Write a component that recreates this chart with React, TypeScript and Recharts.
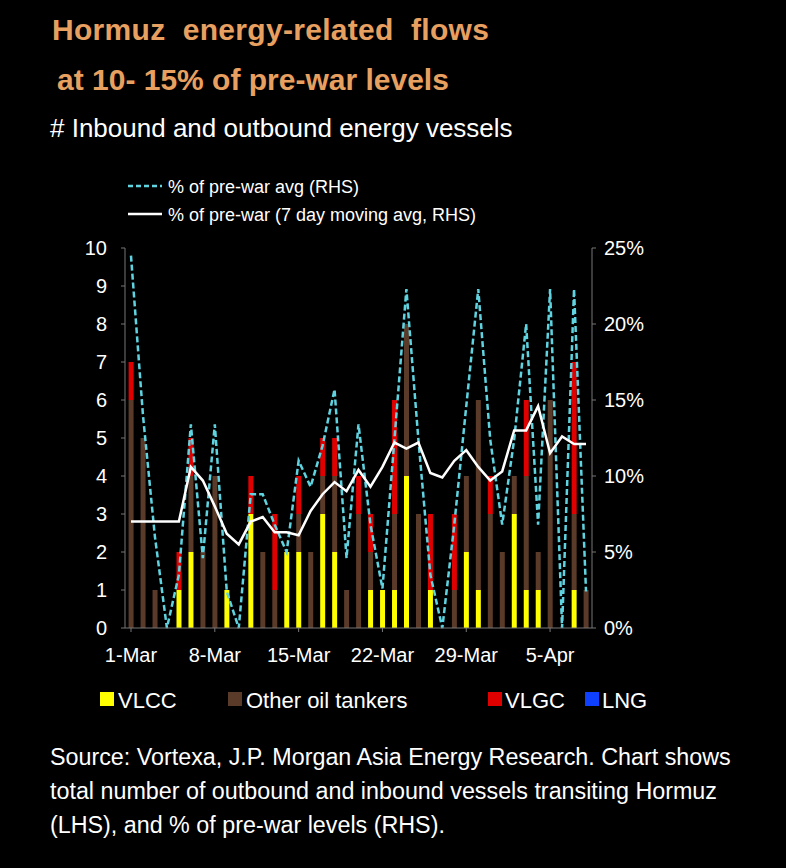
import React from "react";
import { ComposedChart, Bar, Line, XAxis, YAxis } from "recharts";

const dates = ["1-Mar","2-Mar","3-Mar","4-Mar","5-Mar","6-Mar","7-Mar","8-Mar","9-Mar","10-Mar","11-Mar","12-Mar","13-Mar","14-Mar","15-Mar","16-Mar","17-Mar","18-Mar","19-Mar","20-Mar","21-Mar","22-Mar","23-Mar","24-Mar","25-Mar","26-Mar","27-Mar","28-Mar","29-Mar","30-Mar","31-Mar","1-Apr","2-Apr","3-Apr","4-Apr","5-Apr","6-Apr","7-Apr","8-Apr"];
const vlcc = [0,0,0,0,1,2,0,0,1,0,3,0,0,2,2,0,3,2,0,0,1,1,1,4,0,1,0,0,2,1,0,0,3,1,1,0,0,1,0];
const other = [6,5,1,0,0,2,2,4,0,0,0,2,1,0,1,2,1,2,1,3,1,0,2,4,3,0,0,1,2,5,3,2,1,3,1,6,0,2,1];
const vlgc = [1,0,0,0,1,1,0,0,0,0,1,0,2,0,1,0,1,1,0,1,1,0,3,0,0,2,0,2,0,0,1,0,0,2,0,0,0,4,0];
const pctAvg = [24.5,14,6,0,3.5,13.4,4.6,13.4,2.4,0,8.8,8.8,6.8,5,11,9.3,12,15.7,4.6,13.4,6.8,2.6,12.4,22.3,12.4,3.5,0,6.8,14.6,22.3,12.4,6.8,12.4,20,6.8,22.3,0,22.3,2.4];
const pctMA = [7,7,7,7,7,10.6,9.7,8,6.2,5.5,7,7.3,6.3,6.3,6.1,7.7,8.8,9.6,9,10.4,9.3,10.6,12.2,11.8,12.2,10.2,9.9,11,11.7,10.6,9.7,10.3,13,13,14.6,11.5,12.6,12.1,12.1];
const leftTicks = [0,1,2,3,4,5,6,7,8,9,10];
const rightTicks = [0,5,10,15,20,25];

const data = dates.map((d, i) => ({ d, vlcc: vlcc[i], other: other[i], vlgc: vlgc[i], avg: pctAvg[i], ma: pctMA[i] }));
const font = "'Liberation Sans', Arial, sans-serif";

export default function App() {
  const tick = { fill: "#fff", fontSize: 20, fontFamily: font };
  return (
    <div style={{ position: "absolute", left: 0, top: 0, width: 786, height: 868, background: "#000", fontFamily: font, color: "#fff" }}>
      <div style={{ position: "absolute", left: 52, top: 13, fontSize: 30, fontWeight: "bold", color: "#e8a060", letterSpacing: 0.3 }}>Hormuz&nbsp; energy-related&nbsp; flows</div>
      <div style={{ position: "absolute", left: 57, top: 63, fontSize: 30, fontWeight: "bold", color: "#e8a060" }}>at 10- 15% of pre-war levels</div>
      <div style={{ position: "absolute", left: 50, top: 113, fontSize: 26, color: "#fff" }}># Inbound and outbound energy vessels</div>
      <svg style={{ position: "absolute", left: 0, top: 0 }} width={786} height={240}>
        <line x1={128} y1={186} x2={162} y2={186} stroke="#5fd3e0" strokeWidth={2.5} strokeDasharray="5 3" />
        <text x={168} y={193} fill="#fff" fontSize={18} fontFamily={font}>% of pre-war avg (RHS)</text>
        <line x1={128} y1={214} x2={162} y2={214} stroke="#fff" strokeWidth={2.5} />
        <text x={168} y={221} fill="#fff" fontSize={18} fontFamily={font}>% of pre-war (7 day moving avg, RHS)</text>
      </svg>
      <div style={{ position: "absolute", left: 0, top: 0 }}>
        <ComposedChart width={786} height={868} data={data} margin={{ top: 248, right: 0, bottom: 200, left: 20 }} barCategoryGap="30%">
          <XAxis dataKey="d" interval={6} tick={tick} stroke="#777" tickSize={4} height={40} tickMargin={16} />
          <YAxis yAxisId="l" domain={[0, 10]} ticks={leftTicks} tick={tick} stroke="#777" width={105} tickSize={4} tickMargin={14} />
          <YAxis yAxisId="r" orientation="right" domain={[0, 25]} ticks={rightTicks} tickFormatter={(v: number) => v + "%"} tick={tick} stroke="#777" width={194} tickSize={4} tickMargin={8} />
          <Bar yAxisId="l" dataKey="vlcc" stackId="a" fill="#ffff00" isAnimationActive={false} />
          <Bar yAxisId="l" dataKey="other" stackId="a" fill="#5a3a28" isAnimationActive={false} />
          <Bar yAxisId="l" dataKey="vlgc" stackId="a" fill="#e00000" isAnimationActive={false} />
          <Line yAxisId="r" dataKey="avg" stroke="#5fd3e0" strokeWidth={2.5} strokeDasharray="6 3" dot={false} type="linear" isAnimationActive={false} />
          <Line yAxisId="r" dataKey="ma" stroke="#fff" strokeWidth={2.5} dot={false} type="linear" isAnimationActive={false} />
        </ComposedChart>
      </div>
      <svg style={{ position: "absolute", left: 0, top: 680 }} width={786} height={40}>
        <rect x={100} y={12} width={14} height={14} fill="#ffff00" />
        <text x={118} y={28} fill="#fff" fontSize={22} fontFamily={font}>VLCC</text>
        <rect x={228} y={12} width={14} height={14} fill="#5a3a28" />
        <text x={246} y={28} fill="#fff" fontSize={22} fontFamily={font}>Other oil tankers</text>
        <rect x={488} y={12} width={14} height={14} fill="#e00000" />
        <text x={505} y={28} fill="#fff" fontSize={22} fontFamily={font}>VLGC</text>
        <rect x={585} y={12} width={14} height={14} fill="#1040ff" />
        <text x={602} y={28} fill="#fff" fontSize={22} fontFamily={font}>LNG</text>
      </svg>
      <div style={{ position: "absolute", left: 50, top: 740, fontSize: 23.3, lineHeight: "34px", color: "#fff", width: 736, whiteSpace: "nowrap" }}>
        Source: Vortexa, J.P. Morgan Asia Energy Research. Chart shows<br />total number of outbound and inbound vessels transiting Hormuz<br />(LHS), and % of pre-war levels (RHS).
      </div>
    </div>
  );
}
